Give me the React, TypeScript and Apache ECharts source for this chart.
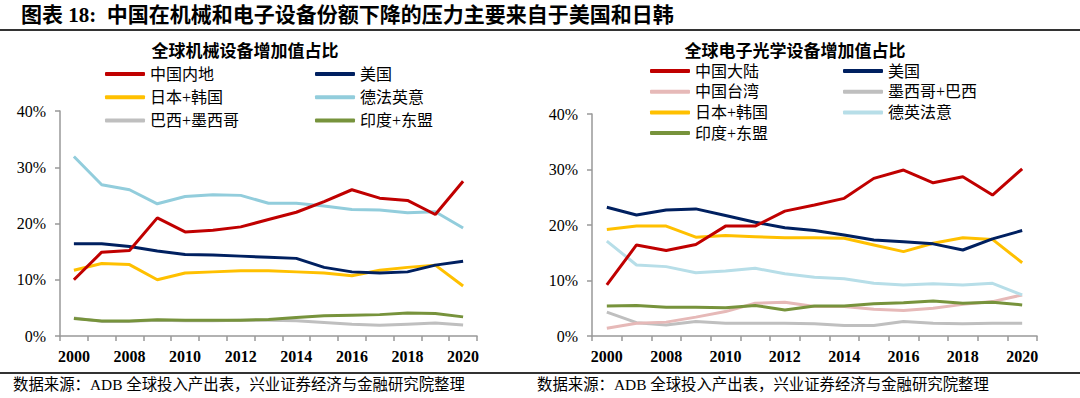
import React, { useEffect, useRef } from "react";
import * as echarts from "echarts";

const years = ["2000", "2007", "2008", "2009", "2010", "2011", "2012", "2013", "2014", "2015", "2016", "2017", "2018", "2019", "2020"];

// Left chart: 全球机械设备增加值占比 (%)
const mchChina = [10.0, 14.9, 15.2, 21.0, 18.5, 18.8, 19.4, 20.7, 22.0, 23.9, 26.0, 24.5, 24.1, 21.6, 27.5];
const mchUS = [16.4, 16.4, 15.9, 15.1, 14.5, 14.4, 14.2, 14.0, 13.8, 12.2, 11.4, 11.2, 11.4, 12.6, 13.3];
const mchJK = [11.7, 12.9, 12.7, 10.0, 11.2, 11.4, 11.6, 11.6, 11.4, 11.2, 10.7, 11.7, 12.2, 12.6, 8.9];
const mchEU = [31.9, 26.9, 26.0, 23.5, 24.8, 25.1, 25.0, 23.6, 23.6, 23.1, 22.5, 22.4, 21.9, 22.1, 19.2];
const mchBM = [3.2, 2.6, 2.6, 2.8, 2.7, 2.7, 2.8, 2.8, 2.7, 2.4, 2.1, 1.9, 2.1, 2.3, 1.95];
const mchIA = [3.1, 2.65, 2.65, 2.9, 2.8, 2.8, 2.8, 2.95, 3.3, 3.6, 3.7, 3.8, 4.1, 4.0, 3.4];

// Right chart: 全球电子光学设备增加值占比 (%)
const eleChina = [9.2, 16.4, 15.4, 16.5, 19.8, 19.8, 22.5, 23.6, 24.8, 28.4, 29.9, 27.6, 28.7, 25.4, 30.1];
const eleUS = [23.2, 21.8, 22.7, 22.9, 21.7, 20.5, 19.5, 19.0, 18.2, 17.3, 17.0, 16.6, 15.5, 17.5, 19.0];
const eleTW = [1.4, 2.3, 2.5, 3.4, 4.4, 5.9, 6.1, 5.3, 5.3, 4.8, 4.6, 5.0, 5.7, 6.2, 7.4];
const eleMB = [4.3, 2.4, 2.0, 2.6, 2.3, 2.3, 2.3, 2.2, 1.9, 1.9, 2.6, 2.3, 2.2, 2.3, 2.3];
const eleJK = [19.2, 19.8, 19.8, 17.8, 18.1, 17.9, 17.7, 17.7, 17.6, 16.4, 15.2, 16.7, 17.7, 17.4, 13.2];
const eleEU = [17.1, 12.8, 12.5, 11.4, 11.7, 12.2, 11.2, 10.6, 10.3, 9.5, 9.2, 9.4, 9.2, 9.5, 7.4];
const eleIA = [5.4, 5.5, 5.2, 5.2, 5.1, 5.5, 4.7, 5.4, 5.4, 5.8, 6.0, 6.3, 5.9, 6.1, 5.6];

const yTicks = [0, 10, 20, 30, 40];

const SERIF = "'Liberation Serif', 'Noto Sans CJK SC', serif";

export default function App() {
  const ref = useRef<HTMLDivElement>(null);
  useEffect(() => {
    document.body.style.margin = "0";
    const chart = echarts.init(ref.current!, undefined, { renderer: "svg" });

    const mkSeries = (name: string, data: number[], color: string, idx: number) => ({
      name,
      type: "line",
      data,
      xAxisIndex: idx,
      yAxisIndex: idx,
      showSymbol: false,
      symbol: "none",
      itemStyle: { color },
      lineStyle: { color, width: 3 },
      emphasis: { disabled: true },
    });

    const xAxisCfg = (gridIndex: number) => ({
      type: "category",
      gridIndex,
      data: years,
      boundaryGap: true,
      axisLine: { lineStyle: { color: "#999", width: 1.5 } },
      axisTick: { show: true, interval: 0, length: 5, lineStyle: { color: "#999", width: 1.5 } },
      axisLabel: { interval: 1, fontFamily: SERIF, fontSize: 16, fontWeight: "bold", color: "#000", margin: 12 },
    });
    const yAxisCfg = (gridIndex: number) => ({
      type: "value",
      gridIndex,
      min: yTicks[0],
      max: yTicks[yTicks.length - 1],
      interval: 10,
      splitLine: { show: false },
      axisLine: { show: true, lineStyle: { color: "#999", width: 1.5 } },
      axisTick: { show: true, length: 5, lineStyle: { color: "#999", width: 1.5 } },
      axisLabel: { formatter: "{value}%", fontFamily: SERIF, fontSize: 16, color: "#000", margin: 14 },
    });

    const legendText = { fontFamily: SERIF, fontSize: 16, color: "#000", lineHeight: 16 };
    const legendBase = {
      orient: "vertical",
      icon: "roundRect",
      itemWidth: 40,
      itemHeight: 4,
      textStyle: legendText,
      selectedMode: false,
    };

    chart.setOption({
      animation: false,
      grid: [
        { left: 60, right: 603, top: 111, bottom: 62 },
        { left: 592, right: 43, top: 114, bottom: 62 },
      ],
      xAxis: [xAxisCfg(0), xAxisCfg(1)],
      yAxis: [yAxisCfg(0), yAxisCfg(1)],
      legend: [
        { ...legendBase, left: 100, top: 61, itemGap: 7.3, data: ["中国内地", "日本+韩国", "巴西+墨西哥"] },
        { ...legendBase, left: 310, top: 61, itemGap: 7.3, data: ["美国", "德法英意", "印度+东盟"] },
        { ...legendBase, left: 645, top: 58, itemGap: 4.7, data: ["中国大陆", "中国台湾", "日本+韩国", "印度+东盟"] },
        { ...legendBase, left: 838, top: 58, itemGap: 4.7, data: ["美国", "墨西哥+巴西", "德英法意"] },
      ],
      title: [
        {
          text: "全球机械设备增加值占比",
          left: 240,
          textAlign: "center",
          top: 38,
          textStyle: { fontFamily: SERIF, fontSize: 17, fontWeight: "bold", color: "#000" },
        },
        {
          text: "全球电子光学设备增加值占比",
          left: 790,
          textAlign: "center",
          top: 38,
          textStyle: { fontFamily: SERIF, fontSize: 17, fontWeight: "bold", color: "#000" },
        },
      ],
      graphic: [
        {
          type: "text",
          left: 21,
          top: 4,
          style: {
            text: "图表 18:  中国在机械和电子设备份额下降的压力主要来自于美国和日韩",
            fontFamily: SERIF,
            fontSize: 21,
            fontWeight: "bold",
            fill: "#000",
          },
        },
        { type: "line", shape: { x1: 0, y1: 30, x2: 1080, y2: 30 }, style: { stroke: "#333", lineWidth: 2 } },
        { type: "line", shape: { x1: 0, y1: 373, x2: 1080, y2: 373 }, style: { stroke: "#333", lineWidth: 2 } },
        {
          type: "text",
          left: 13,
          top: 377,
          style: { text: "数据来源：ADB 全球投入产出表，兴业证券经济与金融研究院整理", fontFamily: SERIF, fontSize: 15.4, fill: "#000" },
        },
        {
          type: "text",
          left: 537,
          top: 377,
          style: { text: "数据来源：ADB 全球投入产出表，兴业证券经济与金融研究院整理", fontFamily: SERIF, fontSize: 15.4, fill: "#000" },
        },
      ],
      series: [
        mkSeries("巴西+墨西哥", mchBM, "#BFBFBF", 0),
        mkSeries("印度+东盟", mchIA, "#77933C", 0),
        mkSeries("日本+韩国", mchJK, "#FFC000", 0),
        mkSeries("美国", mchUS, "#002060", 0),
        mkSeries("德法英意", mchEU, "#92CDDC", 0),
        mkSeries("中国内地", mchChina, "#C00000", 0),

        mkSeries("墨西哥+巴西", eleMB, "#BFBFBF", 1),
        mkSeries("中国台湾", eleTW, "#E6B9B8", 1),
        mkSeries("德英法意", eleEU, "#B7DEE8", 1),
        mkSeries("印度+东盟", eleIA, "#77933C", 1),
        mkSeries("日本+韩国", eleJK, "#FFC000", 1),
        mkSeries("美国", eleUS, "#002060", 1),
        mkSeries("中国大陆", eleChina, "#C00000", 1),
      ],
    });
    return () => chart.dispose();
  }, []);
  return <div ref={ref} style={{ width: 1080, height: 398 }} />;
}
